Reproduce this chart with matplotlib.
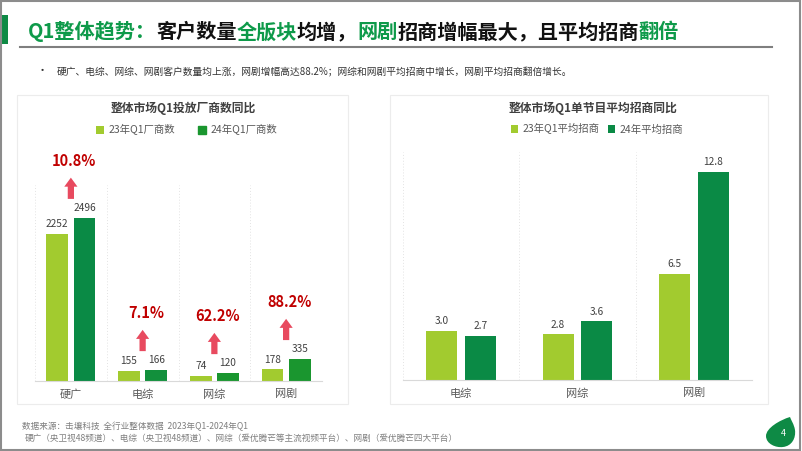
import matplotlib
matplotlib.use('Agg')
import matplotlib.pyplot as plt
from matplotlib.patches import Rectangle, PathPatch
from matplotlib.path import Path
from matplotlib.lines import Line2D
import matplotlib.transforms as mtransforms
import numpy as np

plt.rcParams['font.family'] = ['Noto Sans CJK SC', 'DejaVu Sans']

# ---------------- data ----------------
left_categories = ['硬广', '电综', '网综', '网剧']
left_2023 = [2252, 155, 74, 178]
left_2024 = [2496, 166, 120, 335]
left_growth = ['10.8%', '7.1%', '62.2%', '88.2%']
left_series = ['23年Q1厂商数', '24年Q1厂商数']
left_title = '整体市场Q1投放厂商数同比'

right_categories = ['电综', '网综', '网剧']
right_2023 = [3.0, 2.8, 6.5]
right_2024 = [2.7, 3.6, 12.8]
right_series = ['23年Q1平均招商', '24年平均招商']
right_title = '整体市场Q1单节目平均招商同比'

GREEN_T = '#0E9A4A'
BLACK = '#111111'
title_parts = [('Q1整体趋势：', GREEN_T), ('客户数量', BLACK), ('全版块', GREEN_T),
               ('均增，', BLACK), ('网剧', GREEN_T), ('招商增幅最大，且平均招商', BLACK),
               ('翻倍', GREEN_T)]
bullet_text = '硬广、电综、网综、网剧客户数量均上涨，网剧增幅高达88.2%；网综和网剧平均招商中增长，网剧平均招商翻倍增长。'
footer1 = '数据来源：击壤科技  全行业整体数据  2023年Q1-2024年Q1'
footer2 = '硬广（央卫视48频道）、电综（央卫视48频道）、网综（爱优腾芒等主流视频平台）、网剧（爱优腾芒四大平台）'

LIGHT = '#A2CB2F'
DARK = '#0A8A45'
DARK2 = '#1A962F'
left_dark_colors = [DARK, '#12903C', DARK2, DARK2]

# ---------------- figure ----------------
W, H = 802, 451
fig = plt.figure(figsize=(W / 100, H / 100), dpi=100)
fig.patch.set_facecolor('white')


def fx(x):
    return x / W


def fy(y):
    return 1 - y / H


# slide frame
fig.patches.append(Rectangle((0.001, 0.002), 0.997, 0.995, fill=False, ec='#8C8C8C',
                             lw=1.5, transform=fig.transFigure, zorder=5))
# green title bar
fig.patches.append(Rectangle((fx(0), fy(44)), 8 / W, 29 / H, fc='#0E8A45', ec='none',
                             transform=fig.transFigure))

# multi-colour title
renderer = fig.canvas.get_renderer()
x = fx(28)
for txt, col in title_parts:
    t = fig.text(x, fy(32), txt, fontsize=14.5, weight='bold', color=col,
                 ha='left', va='center')
    bb = t.get_window_extent(renderer=renderer)
    x = bb.x1 / W

fig.add_artist(Line2D([fx(20), fx(772)], [fy(47), fy(47)], color='#7F7F7F', lw=1.5,
                      transform=fig.transFigure))

fig.text(fx(37), fy(71), '•', fontsize=8, color='#333333', ha='left', va='center')
fig.text(fx(57), fy(71), bullet_text, fontsize=7, color='#333333', ha='left', va='center')

# cards
for (x0, y0, x1, y1) in [(17, 95, 348, 404), (390, 95, 768, 404)]:
    fig.patches.append(Rectangle((fx(x0), fy(y1)), (x1 - x0) / W, (y1 - y0) / H,
                                 fc='white', ec='#ECECEC', lw=0.8,
                                 transform=fig.transFigure, zorder=-2))


def style_axes(ax, n):
    for s in ['top', 'left', 'right']:
        ax.spines[s].set_visible(False)
    ax.spines['bottom'].set_color('#D9D9D9')
    ax.spines['bottom'].set_linewidth(0.8)
    ax.set_yticks([])
    ax.set_xlim(-0.5, n - 0.5)
    for gx in np.arange(-0.5, n, 1.0):
        ax.axvline(gx, color='#E3E3E3', ls=(0, (1, 2)), lw=0.7, zorder=0)
    ax.tick_params(axis='x', length=0, labelsize=8, labelcolor='#595959', pad=6)
    ax.patch.set_alpha(0)


# ---------------- left chart ----------------
axL = fig.add_axes([fx(35), fy(381), 287 / W, 196 / H])
xl = np.arange(len(left_categories))
bw = 0.3
off = 0.19
b1 = axL.bar(xl - off, left_2023, bw, color=LIGHT, label=left_series[0], zorder=2)
b2 = axL.bar(xl + off, left_2024, bw, color=left_dark_colors, label=left_series[1], zorder=2)
axL.set_ylim(0, 3000)
style_axes(axL, len(left_categories))
axL.set_xticks(xl)
axL.set_xticklabels(left_categories)
for xs, vals in [(xl - off, left_2023), (xl + off, left_2024)]:
    for xi, v in zip(xs, vals):
        axL.annotate(f'{v}', (xi, v), xytext=(0, 7), textcoords='offset points',
                     ha='center', va='center', fontsize=7.3, color='#404040')
for i, lab in enumerate(left_growth):
    top = max(left_2023[i], left_2024[i])
    tr_head = mtransforms.offset_copy(axL.transData, fig=fig, x=0, y=29, units='points')
    tr_tail = mtransforms.offset_copy(axL.transData, fig=fig, x=0, y=13.7, units='points')
    axL.annotate('', xy=(i, top), xycoords=tr_head, xytext=(i, top), textcoords=tr_tail,
                 arrowprops=dict(arrowstyle='simple,head_length=0.65,head_width=0.95,tail_width=0.45',
                                 fc='#E84A5F', ec='none', shrinkA=0, shrinkB=0),
                 annotation_clip=False)
    axL.annotate(lab, (i, top), xytext=(2.5, 41), textcoords='offset points',
                 ha='center', va='center', fontsize=10.5, weight='bold', color='#C00000',
                 annotation_clip=False)
fig.text(fx(183), fy(108), left_title, fontsize=8.5, weight='bold', color='#404040',
         ha='center', va='center')
legL = axL.legend(handles=[b1, Rectangle((0, 0), 1, 1, color=DARK2)], labels=left_series,
                  loc='center', bbox_to_anchor=(fx(187), fy(130)), bbox_transform=fig.transFigure,
                  ncol=2, frameon=False, fontsize=7.5, handlelength=0.7, handleheight=0.7,
                  handletextpad=0.5, columnspacing=2.2, labelcolor='#595959')

# ---------------- right chart ----------------
axR = fig.add_axes([fx(403), fy(380), 349 / W, 228 / H])
xr = np.arange(len(right_categories))
bw2 = 0.266
off2 = 0.167
c1 = axR.bar(xr - off2, right_2023, bw2, color=LIGHT, label=right_series[0], zorder=2)
c2 = axR.bar(xr + off2, right_2024, bw2, color=DARK, label=right_series[1], zorder=2)
axR.set_ylim(0, 14)
style_axes(axR, len(right_categories))
axR.set_xticks(xr)
axR.set_xticklabels(right_categories)
for xs, vals in [(xr - off2, right_2023), (xr + off2, right_2024)]:
    for xi, v in zip(xs, vals):
        axR.annotate(f'{v:.1f}', (xi, v), xytext=(0, 7), textcoords='offset points',
                     ha='center', va='center', fontsize=7.3, color='#404040')
fig.text(fx(593), fy(108), right_title, fontsize=8.5, weight='bold', color='#404040',
         ha='center', va='center')
axR.legend(handles=[c1, c2], labels=right_series, loc='center',
           bbox_to_anchor=(fx(597), fy(129)), bbox_transform=fig.transFigure,
           ncol=2, frameon=False, fontsize=7.5, handlelength=0.7, handleheight=0.7,
           handletextpad=0.4, columnspacing=0.8, labelcolor='#595959')

# ---------------- footer ----------------
fig.text(fx(22), fy(426), footer1, fontsize=6.2, color='#7F7F7F', ha='left', va='center')
fig.text(fx(25), fy(438), footer2, fontsize=6.2, color='#7F7F7F', ha='left', va='center')

# page leaf
pts = [(790, 417), (780, 420), (766, 428), (766, 436),
       (766, 444), (776, 448), (783, 447),
       (792, 446), (796, 438), (795, 430),
       (794, 424), (791, 420), (790, 417), (790, 417)]
codes = [Path.MOVETO] + [Path.CURVE4] * 12 + [Path.CLOSEPOLY]
leaf = Path([(fx(a), fy(b)) for a, b in pts], codes)
fig.patches.append(PathPatch(leaf, fc='#0E8A45', ec='none', transform=fig.transFigure))
fig.text(fx(783), fy(434), '4', fontsize=6.5, color='white', ha='center', va='center')

fig.savefig('out.png', dpi=100, facecolor='white')
